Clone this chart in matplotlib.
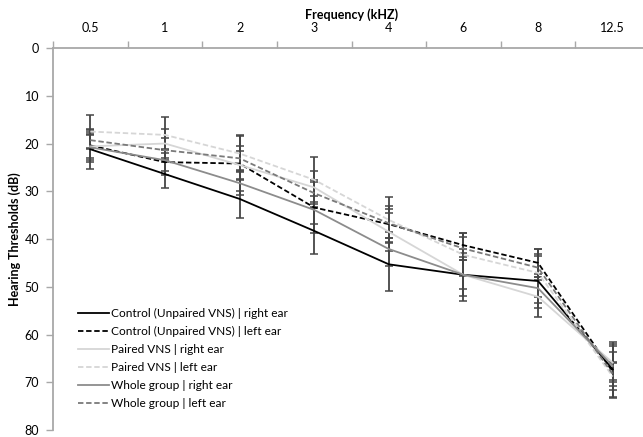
import matplotlib
matplotlib.use('Agg')
import matplotlib.pyplot as plt
from matplotlib.lines import Line2D
import numpy as np

plt.rcParams['font.family'] = ['Lato', 'DejaVu Sans']

freqs = ['0.5', '1', '2', '3', '4', '6', '8', '12.5']

control_right = [21.2, 26.4, 31.6, 38.3, 45.3, 47.5, 48.8, 67.3]
control_left = [20.4, 23.9, 24.2, 33.4, 36.9, 41.3, 45.0, 67.8]
paired_right = [20.6, 20.0, 24.5, 29.2, 38.5, 47.5, 52.1, 65.9]
paired_left = [17.5, 18.2, 22.1, 27.6, 36.0, 43.3, 47.1, 68.8]
whole_right = [20.8, 23.5, 28.3, 33.9, 42.1, 47.5, 50.3, 66.6]
whole_left = [19.3, 21.4, 23.1, 30.4, 36.7, 42.0, 46.0, 68.3]

err_control_right = [4.1, 3.0, 3.9, 4.8, 5.5, 5.4, 5.7, 5.7]
err_control_left = [3.5, 2.8, 5.8, 5.3, 3.8, 2.5, 3.0, 5.4]
err_paired_right = [2.5, 3.0, 3.0, 3.5, 4.0, 4.5, 4.2, 4.0]
err_paired_left = [3.4, 3.7, 3.9, 4.7, 4.9, 4.5, 5.1, 2.9]
err_whole_right = [2.6, 2.2, 2.5, 3.0, 3.5, 3.0, 3.0, 3.0]
err_whole_left = [1.8, 2.5, 2.5, 2.8, 3.0, 2.5, 2.5, 2.5]

labels = ['Control (Unpaired VNS) | right ear',
          'Control (Unpaired VNS) | left ear',
          'Paired VNS | right ear',
          'Paired VNS | left ear',
          'Whole group | right ear',
          'Whole group | left ear']

series = [control_right, control_left, paired_right, paired_left, whole_right, whole_left]
errors = [err_control_right, err_control_left, err_paired_right, err_paired_left,
          err_whole_right, err_whole_left]
colors = ['#000000', '#000000', '#d6d6d6', '#d6d6d6', '#8c8c8c', '#7a7a7a']
styles = ['-', '--', '-', '--', '-', '--']

fig = plt.figure(figsize=(6.43, 4.37), dpi=100)
ax = fig.add_axes([53/643, 1-430/437, 597/643, 382/437])

x = np.arange(len(freqs))
axis_gray = '#a8a8a8'
dash = (3, 1.5)

handles = []
for vals, err, c, ls, lab in zip(series, errors, colors, styles, labels):
    cont = ax.errorbar(x, vals, yerr=err, color=c, lw=1.3, ecolor='#454545',
                       elinewidth=1.3, capsize=3, capthick=1.1)
    line = cont.lines[0]
    h = Line2D([], [], color=c, lw=1.3)
    if ls == '--':
        line.set_dashes(dash)
        h.set_dashes(dash)
    handles.append(h)

ax.set_ylim(80, 0)
ax.set_xlim(-0.5, 7.5)
ax.set_yticks(range(0, 81, 10))

ax.xaxis.tick_top()
ax.set_xticks(x, freqs)
ax.set_xticks(np.arange(-0.5, 8, 1), minor=True)
ax.tick_params(axis='x', which='major', length=0, pad=10, labelsize=9, colors='#000000')
ax.tick_params(axis='x', which='minor', length=5, color=axis_gray, width=1, top=True, bottom=False)
ax.tick_params(axis='y', which='major', length=5, color=axis_gray, width=1, pad=5, labelsize=9)

for s in ['right', 'bottom']:
    ax.spines[s].set_visible(False)
for s in ['left', 'top']:
    ax.spines[s].set_color(axis_gray)
    ax.spines[s].set_linewidth(1.3)

ax.set_xlabel('Frequency (kHZ)', fontsize=9, fontweight='bold')
ax.xaxis.set_label_position('top')
ax.xaxis.set_label_coords(0.5, 1 + (48 - 15) / 382)
ax.xaxis.label.set_va('center')

ax.set_ylabel('Hearing Thresholds (dB)', fontsize=9, fontweight='bold')
ax.yaxis.set_label_coords((21 - 53) / 597, 0.5)

fig.legend(handles, labels, loc='upper left',
           bbox_to_anchor=(78/643, 1 - 308/437), frameon=False,
           fontsize=8.6, handlelength=2.6, handletextpad=0.2,
           labelspacing=0.58, borderpad=0, borderaxespad=0)

fig.savefig('out.png', dpi=100)
